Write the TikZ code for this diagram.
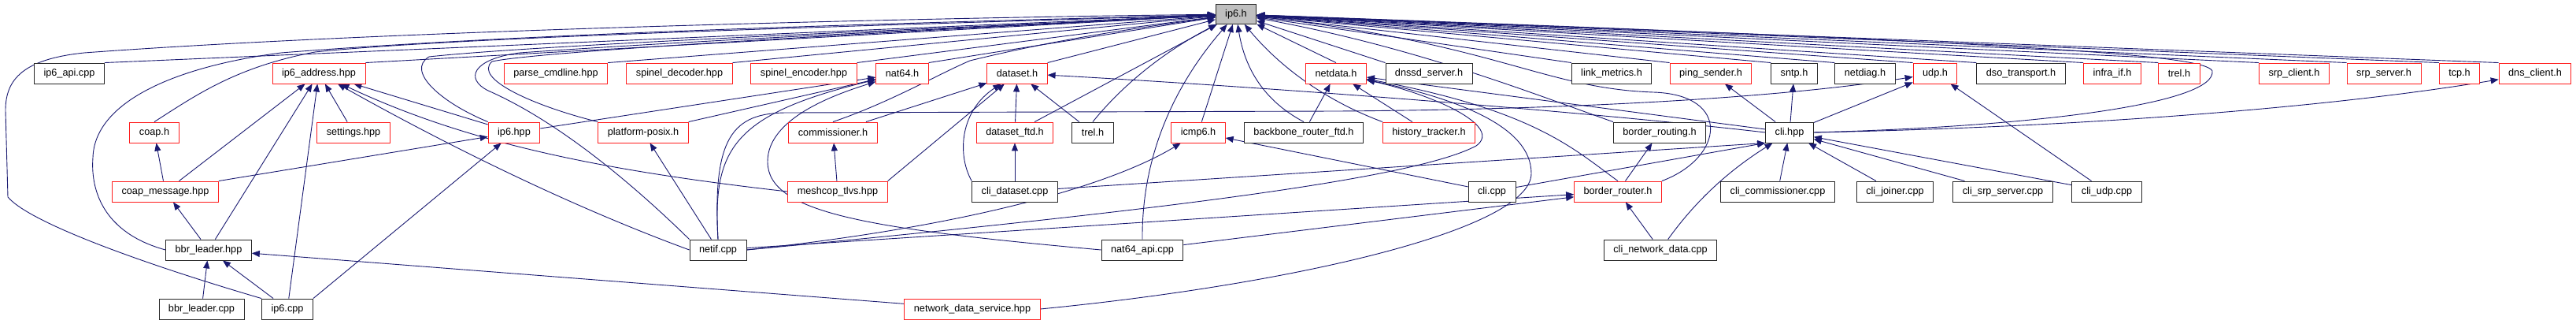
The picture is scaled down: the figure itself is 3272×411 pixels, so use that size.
\documentclass[tikz,border=0pt]{standalone}
\usepackage{fontspec}
\setmainfont{Liberation Sans}
\usetikzlibrary{arrows.meta,backgrounds}
\definecolor{dxblue}{RGB}{25,25,112}
\definecolor{dxred}{RGB}{255,30,30}
\definecolor{dxgray}{RGB}{191,191,191}
\tikzset{
    filebox/.style={draw, line width=0.9pt, fill=white, minimum height=26pt, inner xsep=12pt, inner ysep=0pt},
    redbox/.style={filebox, draw=dxred},
    blkbox/.style={filebox, draw=black!85},
    topbox/.style={filebox, draw=black!85, fill=dxgray, minimum height=25pt},
    incl/.style={->, draw=dxblue, line width=0.9pt},
}

\begin{document}
\begin{tikzpicture}[x=1pt, y=-1pt, >={Triangle[length=10pt,width=8pt]}, font=\fontsize{12.7}{15}\selectfont]
    \useasboundingbox (0,0) rectangle (3272,411);

    % radice
    \node[topbox] (ip6h) at (1570,18) {ip6.h};

    % riga 1
    \node[blkbox] (ip6api) at (88,93) {ip6\_api.cpp};
    \node[redbox] (ip6addr) at (405,93) {ip6\_address.hpp};
    \node[redbox] (parsecmd) at (706,93) {parse\_cmdline.hpp};
    \node[redbox] (spineldec) at (863,93) {spinel\_decoder.hpp};
    \node[redbox] (spinelenc) at (1021,93) {spinel\_encoder.hpp};
    \node[redbox] (nat64h) at (1146,93) {nat64.h};
    \node[redbox] (dataseth) at (1292,93) {dataset.h};
    \node[redbox] (netdatah) at (1697,93) {netdata.h};
    \node[blkbox] (dnssd) at (1815,93) {dnssd\_server.h};
    \node[blkbox] (linkmet) at (2047,93) {link\_metrics.h};
    \node[redbox] (pingsend) at (2173,93) {ping\_sender.h};
    \node[blkbox] (sntph) at (2279,93) {sntp.h};
    \node[blkbox] (netdiagh) at (2369,93) {netdiag.h};
    \node[redbox] (udph) at (2458,93) {udp.h};
    \node[blkbox] (dsoh) at (2567,93) {dso\_transport.h};
    \node[redbox] (infraif) at (2683,93) {infra\_if.h};
    \node[redbox] (trelA) at (2768,93) {trel.h};
    \node[redbox] (srpcli) at (2914,93) {srp\_client.h};
    \node[redbox] (srpsrv) at (3028,93) {srp\_server.h};
    \node[redbox] (tcph) at (3124,93) {tcp.h};
    \node[redbox] (dnscli) at (3220,93) {dns\_client.h};

    % riga 2
    \node[redbox] (coaph) at (196,168) {coap.h};
    \node[redbox] (settings) at (449,168) {settings.hpp};
    \node[redbox] (ip6hpp) at (653,168) {ip6.hpp};
    \node[redbox] (posix) at (817,168) {platform-posix.h};
    \node[redbox] (commish) at (1058,168) {commissioner.h};
    \node[redbox] (datasetftd) at (1289,168) {dataset\_ftd.h};
    \node[blkbox] (trelB) at (1388,168) {trel.h};
    \node[redbox] (icmp6) at (1522,168) {icmp6.h};
    \node[blkbox] (bbrftd) at (1656,168) {backbone\_router\_ftd.h};
    \node[redbox] (histtrk) at (1815,168) {history\_tracker.h};
    \node[blkbox] (brrouting) at (2108,168) {border\_routing.h};
    \node[blkbox] (clihpp) at (2273,168) {cli.hpp};

    % riga 3
    \node[redbox] (coapmsg) at (210,243) {coap\_message.hpp};
    \node[redbox] (meshcop) at (1064,243) {meshcop\_tlvs.hpp};
    \node[blkbox] (clidataset) at (1289,243) {cli\_dataset.cpp};
    \node[blkbox] (clicpp) at (1895,243) {cli.cpp};
    \node[redbox] (brrouter) at (2055,243) {border\_router.h};
    \node[blkbox] (clicommis) at (2258,243) {cli\_commissioner.cpp};
    \node[blkbox] (clijoiner) at (2407,243) {cli\_joiner.cpp};
    \node[blkbox] (clisrp) at (2544,243) {cli\_srp\_server.cpp};
    \node[blkbox] (cliudp) at (2676,243) {cli\_udp.cpp};

    % riga 4 e 5
    \node[blkbox] (bbrhpp) at (265,317) {bbr\_leader.hpp};
    \node[blkbox] (netifcpp) at (912,317) {netif.cpp};
    \node[blkbox] (nat64api) at (1451,317) {nat64\_api.cpp};
    \node[blkbox] (clinetdata) at (2109,317) {cli\_network\_data.cpp};
    \node[blkbox] (bbrcpp) at (256,392) {bbr\_leader.cpp};
    \node[blkbox] (ip6cpp) at (365,392) {ip6.cpp};
    \node[redbox] (netdatasvc) at (1235,392) {network\_data\_service.hpp};

    \begin{scope}[on background layer]
        % verso ip6.h
        \foreach \n in {ip6api,ip6addr,parsecmd,spineldec,spinelenc,nat64h,dataseth}
            \draw[incl] (\n.north east) -- (ip6h);
        \foreach \n in {dnssd,linkmet,pingsend,sntph,netdiagh,udph,dsoh,infraif,trelA,srpcli,srpsrv,tcph,dnscli}
            \draw[incl] (\n.north west) -- (ip6h);
        \draw[incl] (netdatah.north) -- (ip6h);
        \draw[incl] (icmp6) -- (ip6h);
        \draw[incl] (datasetftd) -- (ip6h);
        \draw[incl] (coaph.north) .. controls (250,120) and (300,85) .. (400,66) .. controls (600,45) and (1200,30) .. (ip6h);
        \draw[incl] (bbrhpp.west) .. controls (130,295) and (115,240) .. (118,200) .. controls (120,130) and (220,85) .. (357,67) .. controls (700,40) and (1200,28) .. (ip6h);
        \draw[incl] (ip6cpp.north west) .. controls (200,340) and (40,285) .. (10,250) -- (7,140) .. controls (7,100) and (30,75) .. (107,67) .. controls (500,38) and (1200,22) .. (ip6h);
        \draw[incl] (ip6hpp.north west) .. controls (560,130) and (515,90) .. (545,72) .. controls (700,55) and (1300,32) .. (ip6h);
        \draw[incl] (posix.north west) .. controls (680,135) and (600,100) .. (625,78) .. controls (700,62) and (1300,32) .. (ip6h);
        \draw[incl] (netifcpp.north west) .. controls (790,220) and (700,150) .. (620,115) .. controls (590,100) and (600,75) .. (660,67) .. controls (900,50) and (1300,32) .. (ip6h);
        \draw[incl] (commish.north) .. controls (1130,130) and (1190,95) .. (1232,77) .. controls (1350,48) and (1450,35) .. (ip6h);
        \draw[incl] (trelB.north) .. controls (1420,115) and (1470,70) .. (ip6h);
        \draw[incl] (nat64api.north) .. controls (1450,200) and (1490,110) .. (ip6h);
        \draw[incl] (bbrftd.north) .. controls (1600,125) and (1580,80) .. (ip6h);
        \draw[incl] (histtrk.north west) .. controls (1690,130) and (1630,90) .. (ip6h);
        \draw[incl] (brrouting.north west) .. controls (1950,120) and (1800,60) .. (ip6h);
        \draw[incl] (brrouter.north east) .. controls (2190,200) and (2200,120) .. (2100,117) .. controls (1960,112) and (1900,55) .. (ip6h);
        \draw[incl] (clihpp.east) .. controls (2600,160) and (2815,130) .. (2810,90) .. controls (2800,70) and (2600,55) .. (ip6h);

        % ip6_address.hpp e ip6.hpp
        \foreach \n in {coapmsg,bbrhpp,ip6cpp,settings,ip6hpp}
            \draw[incl] (\n) -- (ip6addr);
        \draw[incl] (meshcop.west) .. controls (780,218) and (600,185) .. (ip6addr);
        \draw[incl] (netifcpp.west) .. controls (720,260) and (560,180) .. (ip6addr);
        \draw[incl] (coapmsg.north east) -- (ip6hpp);
        \draw[incl] (ip6cpp.north east) -- (ip6hpp);

        % nat64.h
        \draw[incl] (ip6hpp) -- (nat64h);
        \draw[incl] (posix.north east) -- (nat64h);
        \draw[incl] (netifcpp.north) .. controls (905,190) and (930,145) .. (nat64h);
        \draw[incl] (nat64api.west) .. controls (1100,290) and (975,270) .. (975,205) .. controls (975,150) and (1060,120) .. (nat64h);
        \draw[incl] (netifcpp.north) .. controls (905,175) and (930,143) .. (1000,143) -- (1700,141) .. controls (2100,138) and (2320,115) .. (udph);

        % catena sinistra
        \draw[incl] (netifcpp) -- (posix);
        \draw[incl] (coapmsg) -- (coaph);
        \draw[incl] (bbrhpp) -- (coapmsg);
        \foreach \n in {bbrcpp,ip6cpp}
            \draw[incl] (\n) -- (bbrhpp);
        \draw[incl] (netdatasvc) -- (bbrhpp);

        % dataset
        \draw[incl] (meshcop) -- (commish);
        \draw[incl] (meshcop.north east) -- (dataseth);
        \draw[incl] (commish) -- (dataseth);
        \draw[incl] (datasetftd) -- (dataseth);
        \draw[incl] (trelB) -- (dataseth);
        \draw[incl] (clidataset) -- (datasetftd);
        \draw[incl] (clidataset.north west) .. controls (1215,195) and (1220,140) .. (dataseth);
        \draw[incl] (clihpp.west) .. controls (2000,140) and (1600,110) .. (dataseth);

        % netdata e border router
        \draw[incl] (clihpp) -- (netdatah);
        \draw[incl] (bbrftd) -- (netdatah);
        \draw[incl] (histtrk) -- (netdatah);
        \draw[incl] (brrouter.north) .. controls (2000,190) and (1950,140) .. (netdatah);
        \draw[incl] (netifcpp.east) .. controls (1500,265) and (1800,225) .. (1875,185) .. controls (1910,160) and (1820,120) .. (netdatah);
        \draw[incl] (netdatasvc.east) .. controls (1650,360) and (1945,290) .. (1945,220) .. controls (1945,160) and (1850,125) .. (netdatah);
        \draw[incl] (brrouter) -- (brrouting);
        \draw[incl] (netifcpp) -- (brrouter);
        \draw[incl] (nat64api) -- (brrouter);
        \draw[incl] (clinetdata) -- (brrouter);
        \draw[incl] (netifcpp.east) .. controls (1250,285) and (1420,230) .. (icmp6);
        \draw[incl] (clicpp) -- (icmp6);

        % cli
        \draw[incl] (clicpp) -- (clihpp.south west);
        \draw[incl] (clidataset) -- (clihpp.south west);
        \foreach \n in {clicommis,clijoiner,clisrp,cliudp}
            \draw[incl] (\n) -- (clihpp);
        \draw[incl] (clinetdata) .. controls (2150,260) and (2190,220) .. (clihpp);
        \draw[incl] (cliudp) -- (udph);
        \foreach \n in {pingsend,sntph,udph}
            \draw[incl] (clihpp) -- (\n);
        \draw[incl] (clihpp.east) .. controls (2700,160) and (3000,130) .. (dnscli);
    \end{scope}
\end{tikzpicture}
\end{document}
